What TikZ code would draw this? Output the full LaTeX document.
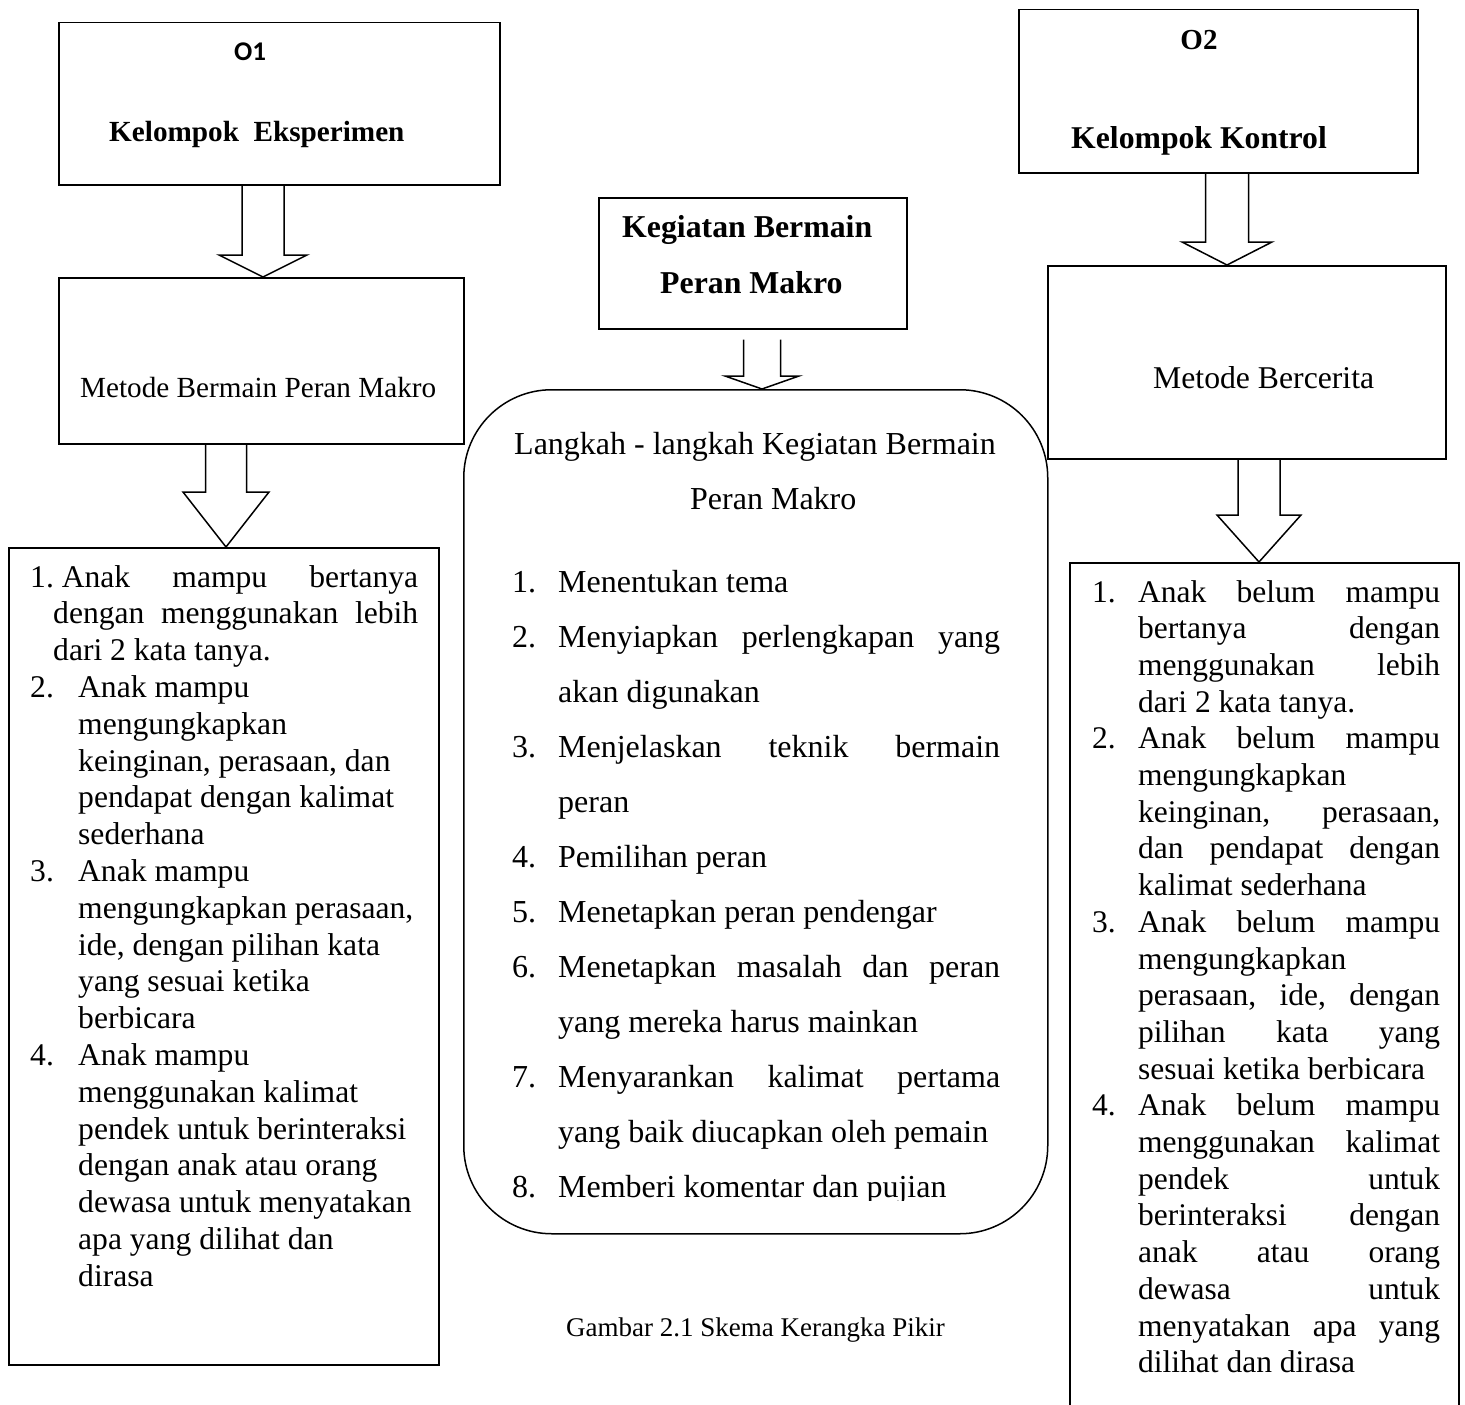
\documentclass[tikz,border=0pt]{standalone}
\usepackage{fontspec}
\setmainfont{Liberation Serif}
\newfontfamily\sansfam{Carlito}
\usetikzlibrary{calc}
\newdimen\LW
\newcommand\LJ[2]{\hbox to \LW{\hskip#1\relax #2}}
\newcommand\LR[2]{\hbox to \LW{\hskip#1\relax #2\hfil}}
\newcommand\itemnum[2]{\hbox to #1{#2\hfil}}
\newcommand\fsz[1]{\fontsize{#1}{#1}\selectfont}
\newcommand\barrow[5]{\draw[blockarrow] let \p1=#1, \p2=#2 in
  (\x2-#3pt,\y1) -- (\x2-#3pt,\y2+#5pt) -- (\x2-#4pt,\y2+#5pt) -- (\x2,\y2)
  -- (\x2+#4pt,\y2+#5pt) -- (\x2+#3pt,\y2+#5pt) -- (\x2+#3pt,\y1);}
\tikzset{
  frame/.style={draw, line width=1.5pt, inner sep=0pt, anchor=north west},
  txt/.style={inner sep=0pt, anchor=base west},
  blockarrow/.style={line width=1.5pt, line join=miter}
}
\begin{document}
\begin{tikzpicture}[x=1pt,y=-1pt]
\useasboundingbox (0,0) rectangle (1465,1405);

% ---------- frames ----------
\node[frame, minimum width=441pt, minimum height=162pt] (o1) at (58,22) {};
\node[frame, minimum width=405pt, minimum height=166pt] (met) at (58,277) {};
\node[frame, minimum width=430pt, minimum height=817pt] (lst1) at (8,547) {};
\node[frame, minimum width=308pt, minimum height=131pt] (kpm) at (598,197) {};
\node[frame, rounded corners=88pt, minimum width=584pt, minimum height=844pt] (steps) at (463,389) {};
\node[frame, minimum width=399pt, minimum height=163pt] (o2) at (1018,9) {};
\node[frame, minimum width=398pt, minimum height=193pt] (mb) at (1047,265) {};
\node[frame, minimum width=389pt, minimum height=860pt] (lst2) at (1069,562) {};

% ---------- block arrows ----------
\barrow{(o1.south -| 263,0)}{(met.north -| 263,0)}{21}{44}{22}
\barrow{(met.south -| 226,0)}{(lst1.north -| 226,0)}{20.5}{43}{55}
\barrow{($(kpm.south -| 762,0)+(0,10)$)}{(steps.north -| 762,0)}{18.5}{37}{13}
\barrow{(o2.south -| 1227,0)}{(mb.north -| 1227,0)}{21.5}{45}{23}
\barrow{(mb.south -| 1259,0)}{(lst2.north -| 1259,0)}{21}{42}{47}

% ---------- titles ----------
\node[inner sep=0pt, anchor=base, font=\sansfam\bfseries\fsz{27}] (t-o1) at (250,61) {O1};
\node[txt, font=\bfseries\fsz{29.2}] (t-ke) at (109,141) {Kelompok\ \ Eksperimen};
\node[txt, font=\fsz{29.2}] (t-met) at (80,397) {Metode Bermain Peran Makro};
\node[txt, font=\bfseries\fsz{31.8}] (t-kpm1) at (622,237) {Kegiatan Bermain};
\node[txt, font=\bfseries\fsz{31.8}] (t-kpm2) at (660,293) {Peran Makro};
\node[inner sep=0pt, anchor=base, font=\bfseries\fsz{29}] (t-o2) at (1199,50) {O2};
\node[txt, font=\bfseries\fsz{31.7}] (t-kk) at (1071,148) {Kelompok Kontrol};
\node[txt, font=\fsz{31.7}] (t-mb) at (1153,388) {Metode Bercerita};
\node[txt, font=\fsz{27}] (cap) at (566,1336) {Gambar 2.1 Skema Kerangka Pikir};

% ---------- left list ----------
\node[txt, font=\fsz{31.6}] (l-list) at (30,587) {\vtop{\baselineskip=36.8pt \LW=388pt
\LJ{0pt}{1.\ Anak\hfill mampu\hfill bertanya}
\LJ{23pt}{dengan\hfill menggunakan\hfill lebih}
\LR{23pt}{dari 2 kata tanya.}
\LR{0pt}{\itemnum{48pt}{2.}Anak mampu}
\LR{48pt}{mengungkapkan}
\LR{48pt}{keinginan, perasaan, dan}
\LR{48pt}{pendapat dengan kalimat}
\LR{48pt}{sederhana}
\LR{0pt}{\itemnum{48pt}{3.}Anak mampu}
\LR{48pt}{mengungkapkan perasaan,}
\LR{48pt}{ide, dengan pilihan kata}
\LR{48pt}{yang sesuai ketika}
\LR{48pt}{berbicara}
\LR{0pt}{\itemnum{48pt}{4.}Anak mampu}
\LR{48pt}{menggunakan kalimat}
\LR{48pt}{pendek untuk berinteraksi}
\LR{48pt}{dengan anak atau orang}
\LR{48pt}{dewasa untuk menyatakan}
\LR{48pt}{apa yang dilihat dan}
\LR{48pt}{dirasa}}};

% ---------- centre list ----------
\node[txt, font=\fsz{32}] (h1) at (514,454) {Langkah - langkah Kegiatan Bermain};
\node[txt, font=\fsz{32}] (h2) at (690,509) {Peran Makro};
\begin{scope}
\clip (steps.north west) rectangle ($(steps.south east)+(0,-34)$);
\node[txt, font=\fsz{32}] (c-list) at (512,592) {\vtop{\baselineskip=55pt \LW=488pt
\LR{0pt}{\itemnum{46pt}{1.}Menentukan tema}
\LJ{0pt}{\itemnum{46pt}{2.}Menyiapkan\hfill perlengkapan\hfill yang}
\LR{46pt}{akan digunakan}
\LJ{0pt}{\itemnum{46pt}{3.}Menjelaskan\hfill teknik\hfill bermain}
\LR{46pt}{peran}
\LR{0pt}{\itemnum{46pt}{4.}Pemilihan peran}
\LR{0pt}{\itemnum{46pt}{5.}Menetapkan peran pendengar}
\LJ{0pt}{\itemnum{46pt}{6.}Menetapkan\hfill masalah\hfill dan\hfill peran}
\LR{46pt}{yang mereka harus mainkan}
\LJ{0pt}{\itemnum{46pt}{7.}Menyarankan\hfill kalimat\hfill pertama}
\LR{46pt}{yang baik diucapkan oleh pemain}
\LR{0pt}{\itemnum{46pt}{8.}Memberi komentar dan pujian}}};
\end{scope}

% ---------- right list ----------
\node[txt, font=\fsz{31.5}] (r-list) at (1092,602) {\vtop{\baselineskip=36.7pt \LW=348pt
\LJ{0pt}{\itemnum{46pt}{1.}Anak\hfill belum\hfill mampu}
\LJ{46pt}{bertanya\hfill dengan}
\LJ{46pt}{menggunakan\hfill lebih}
\LR{46pt}{dari 2 kata tanya.}
\LJ{0pt}{\itemnum{46pt}{2.}Anak\hfill belum\hfill mampu}
\LR{46pt}{mengungkapkan}
\LJ{46pt}{keinginan,\hfill perasaan,}
\LJ{46pt}{dan\hfill pendapat\hfill dengan}
\LR{46pt}{kalimat sederhana}
\LJ{0pt}{\itemnum{46pt}{3.}Anak\hfill belum\hfill mampu}
\LR{46pt}{mengungkapkan}
\LJ{46pt}{perasaan,\hfill ide,\hfill dengan}
\LJ{46pt}{pilihan\hfill kata\hfill yang}
\LR{46pt}{sesuai ketika berbicara}
\LJ{0pt}{\itemnum{46pt}{4.}Anak\hfill belum\hfill mampu}
\LJ{46pt}{menggunakan\hfill kalimat}
\LJ{46pt}{pendek\hfill untuk}
\LJ{46pt}{berinteraksi\hfill dengan}
\LJ{46pt}{anak\hfill atau\hfill orang}
\LJ{46pt}{dewasa\hfill untuk}
\LJ{46pt}{menyatakan\hfill apa\hfill yang}
\LR{46pt}{dilihat dan dirasa}}};
\end{tikzpicture}
\end{document}
